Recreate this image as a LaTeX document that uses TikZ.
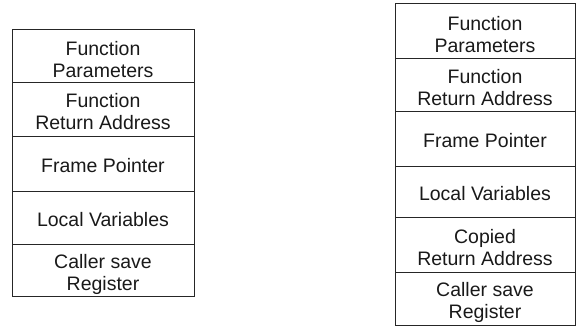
\documentclass[tikz,border=0pt]{standalone}
\usepackage{fontspec}
\setmainfont{Liberation Sans}
\begin{document}
\begin{tikzpicture}[x=1pt,y=1pt,
  cellL/.style={draw=black!85, line width=1pt, rectangle, inner sep=0pt, minimum width=182pt},
  cellR/.style={draw=black!85, line width=1pt, rectangle, inner sep=0pt, minimum width=180pt},
  lab/.style={align=center, inner sep=0pt, font=\fontsize{19.5}{22}\selectfont, text=black!90}]
\useasboundingbox (0,0) rectangle (579,327);

% left stack frame
\node[cellL, minimum height=53pt] (l1) at (103,270.5) {};
\node[cellL, minimum height=54pt] (l2) at (103,217) {};
\node[cellL, minimum height=55pt] (l3) at (103,162.5) {};
\node[cellL, minimum height=53pt] (l4) at (103,108.5) {};
\node[cellL, minimum height=52pt] (l5) at (103,56) {};

\node[lab] (tl1) at ([yshift=-3pt]l1.center) {Function\\Parameters};
\node[lab] (tl2) at ([yshift=-2pt]l2.center) {Function\\Return Address};
\node[lab] (tl3) at ([yshift=-1pt]l3.center) {Frame Pointer};
\node[lab] (tl4) at ([yshift=-1pt]l4.center) {Local Variables};
\node[lab] (tl5) at ([yshift=-3pt]l5.center) {Caller save\\Register};

% right stack frame
\node[cellR, minimum height=55pt] (r1) at (485,295.5) {};
\node[cellR, minimum height=53pt] (r2) at (485,241.5) {};
\node[cellR, minimum height=55pt] (r3) at (485,187.5) {};
\node[cellR, minimum height=51pt] (r4) at (485,134.5) {};
\node[cellR, minimum height=55pt] (r5) at (485,81.5) {};
\node[cellR, minimum height=53pt] (r6) at (485,27.5) {};

\node[lab] (tr1) at ([yshift=-3pt]r1.center) {Function\\Parameters};
\node[lab] (tr2) at ([yshift=-2pt]r2.center) {Function\\Return Address};
\node[lab] (tr3) at ([yshift=-1pt]r3.center) {Frame Pointer};
\node[lab] (tr4) at ([yshift=-1pt]r4.center) {Local Variables};
\node[lab] (tr5) at ([yshift=-2pt]r5.center) {Copied\\Return Address};
\node[lab] (tr6) at ([yshift=-3pt]r6.center) {Caller save\\Register};
\end{tikzpicture}
\end{document}
